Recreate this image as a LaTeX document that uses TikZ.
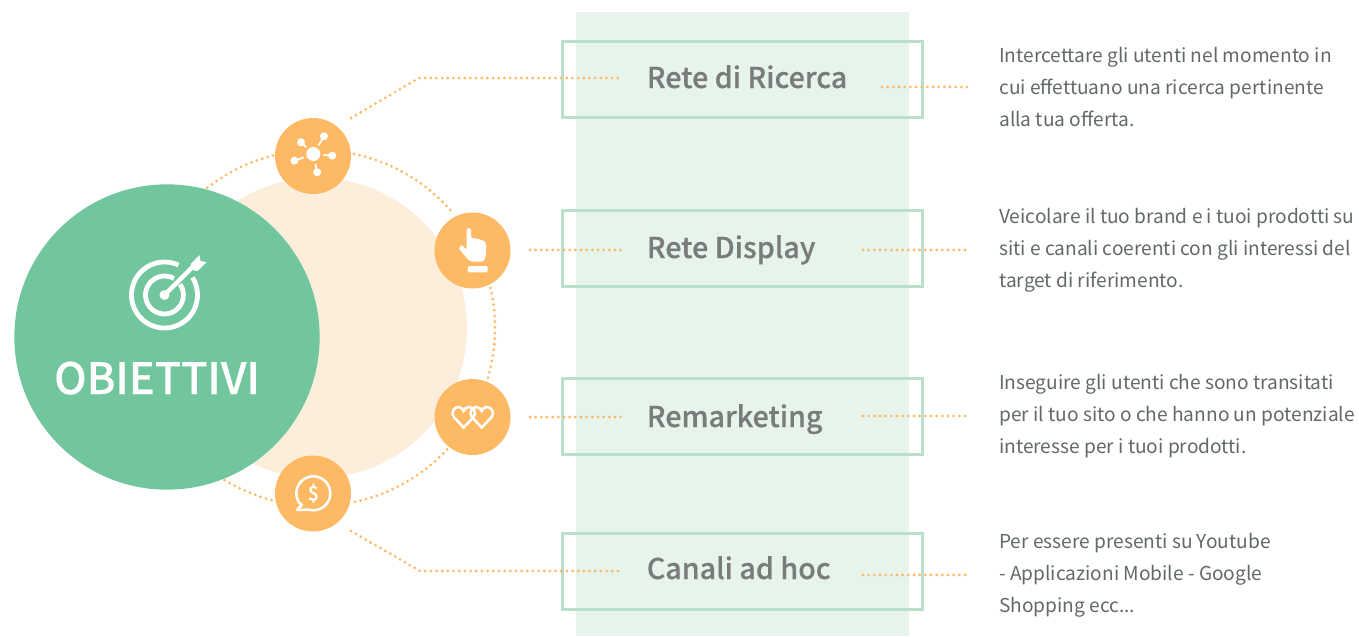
\documentclass[tikz,border=0pt]{standalone}
\usepackage{fontspec}
\setmainfont{Noto Sans CJK SC}
\newfontfamily\medio[FakeBold=0.35]{Noto Sans CJK SC Medium}
\usepackage{tikz}
\definecolor{Verde}{RGB}{114,198,157}
\definecolor{VerdeBox}{RGB}{185,224,205}
\definecolor{VerdeBg}{RGB}{230,244,235}
\definecolor{Crema}{RGB}{253,238,219}
\definecolor{Arancio}{RGB}{253,185,99}
\definecolor{GrigioT}{RGB}{122,124,124}
\definecolor{GrigioD}{RGB}{98,104,104}
\tikzset{
    puntini/.style={draw=Arancio,line width=2.3pt,line cap=round,dash pattern=on 0pt off 4.25pt},
    icona/.style={circle,fill=Arancio,minimum size=57pt,inner sep=0pt},
    riquadro/.style={draw=VerdeBox,line width=2.25pt,minimum width=270pt,minimum height=57pt,inner sep=0pt},
    titolo/.style={anchor=base west,text=GrigioT,font=\fontsize{21.5}{26}\selectfont\medio,inner sep=0pt},
    testo/.style={anchor=base west,align=left,text=GrigioD,font=\fontsize{14.35}{24}\selectfont,inner sep=0pt},
    tratto/.style={draw=white,line width=1.9pt}
}
\begin{document}
\begin{tikzpicture}[x=0.75pt,y=-0.75pt]
    \useasboundingbox (0,0) rectangle (1359,636);
    \fill[VerdeBg] (576,12) rectangle (909,636);
    % cerchi
    \node[circle,fill=Crema,minimum size=225pt,inner sep=0pt] (sfondo) at (317,328) {};
    \node[circle,fill=Verde,minimum size=229pt,inner sep=0pt] (obiettivi) at (167,337) {};
    \node[anchor=base,text=white,font=\fontsize{32.4}{36}\selectfont\medio,inner sep=0pt] (scritta) at (157,394) {OBIETTIVI};
    \coordinate (centro) at (317,328);
    \draw[puntini] (centro) ++(-128:178) arc[start angle=-128,end angle=-104,radius=178];
    \draw[puntini] (centro) ++(-78:178) arc[start angle=-78,end angle=-41,radius=178];
    \draw[puntini] (centro) ++(-13:178) arc[start angle=-13,end angle=17,radius=178];
    \draw[puntini] (centro) ++(43:178) arc[start angle=43,end angle=78,radius=178];
    \draw[puntini] (centro) ++(103:178) arc[start angle=103,end angle=122.5,radius=178];
    % icone
    \node[icona] (reteIcon) at (313,156) {};
    \node[icona] (manoIcon) at (472.5,250.5) {};
    \node[icona] (cuoriIcon) at (472.5,417) {};
    \node[icona] (bollaIcon) at (313,493.5) {};
    % riquadri
    \node[riquadro] (boxRicerca) at (742,79) {};
    \node[riquadro] (boxDisplay) at (742,248) {};
    \node[riquadro] (boxRemark) at (742,416.5) {};
    \node[riquadro] (boxCanali) at (742,571) {};
    \node[titolo] (labRicerca) at (646.5,88) {Rete di Ricerca};
    \node[titolo] (labDisplay) at (646.5,258) {Rete Display};
    \node[titolo] (labRemark) at (646.5,427) {Remarketing};
    \node[titolo] (labCanali) at (646.5,579) {Canali ad hoc};
    % descrizioni
    \node[testo] (descRicerca) at (999,126) {Intercettare gli utenti nel momento in\\cui effettuano una ricerca pertinente\\alla tua offerta.};
    \node[testo] (descDisplay) at (999,287) {Veicolare il tuo brand e i tuoi prodotti su\\siti e canali coerenti con gli interessi del\\target di riferimento.};
    \node[testo] (descRemark) at (999,453) {Inseguire gli utenti che sono transitati\\per il tuo sito o che hanno un potenziale\\interesse per i tuoi prodotti.};
    \node[testo] (descCanali) at (999,612) {Per essere presenti su Youtube\\- Applicazioni Mobile - Google\\Shopping ecc...};
    % connettori
    \coordinate (a1) at (351,118); \coordinate (a2) at (419,78); \coordinate (a3) at (619,78);
    \coordinate (b1) at (530,250); \coordinate (b2) at (622,250);
    \coordinate (c1) at (530,417); \coordinate (c2) at (622,417);
    \coordinate (d1) at (351,531); \coordinate (d2) at (420,571); \coordinate (d3) at (622,571);
    \draw[puntini] (a1) -- (a2) -- (a3);
    \draw[puntini] (b1) -- (b2);
    \draw[puntini] (c1) -- (c2);
    \draw[puntini] (d1) -- (d2) -- (d3);
    \coordinate (e1) at (882,87); \coordinate (e2) at (969,87);
    \coordinate (f1) at (863,250); \coordinate (f2) at (967,250);
    \coordinate (g1) at (863,416); \coordinate (g2) at (967,416);
    \coordinate (h1) at (863,575); \coordinate (h2) at (967,575);
    \draw[puntini] (e1) -- (e2);
    \draw[puntini] (f1) -- (f2);
    \draw[puntini] (g1) -- (g2);
    \draw[puntini] (h1) -- (h2);
    % bersaglio
    \begin{scope}[shift={(164.5,295)}]
        \draw[draw=white,line width=3.6pt] (-65:33) arc[start angle=-65,end angle=-392,radius=33];
        \draw[draw=white,line width=3.6pt] (-60:19) arc[start angle=-60,end angle=-395,radius=19];
        \fill[white] (0,0) circle (5);
        \draw[draw=white,line width=3.2pt] (0,0) -- (30,-30);
        \fill[white] (26,-31) -- (35,-40) -- (36,-34) -- (42,-33) -- (33,-24) -- (28,-25) -- cycle;
    \end{scope}
    % rete
    \begin{scope}[shift={(313.3,154)}]
        \fill[white] (0,0) circle (7);
        \foreach \ang/\rag in {-59/20.7,-136.5/17,5/19,160.6/20,78/18.7}{
            \fill[white] (\ang:\rag) circle (4);
            \draw[draw=white,line width=1.3pt] (\ang:10) -- (\ang:\rag);
        }
    \end{scope}
    % mano
    \fill[white,rounded corners=1.6pt] (466.7,250) -- (466.7,228) -- (471,228) -- (471,238.3) -- (476.7,238.3) -- (481.7,240) -- (486,242.3) -- (486,257) -- (483,261.7) -- (470,261.7) -- (458.5,248.3) -- (461.5,244.3) -- cycle;
    \fill[white,rounded corners=1pt] (467.7,266) rectangle (487.7,272.3);
    % cuori
    \foreach \cx in {463.7,481.7}{
        \begin{scope}[shift={(\cx,416.5)}]
            \draw[tratto] (0,11) -- (-9.5,1) .. controls (-13.5,-3) and (-10,-9.5) .. (-5.5,-9.5) .. controls (-3,-9.5) and (-1,-8) .. (0,-5.5) .. controls (1,-8) and (3,-9.5) .. (5.5,-9.5) .. controls (10,-9.5) and (13.5,-3) .. (9.5,1) -- cycle;
        \end{scope}
    }
    % bolla
    \begin{scope}[shift={(313.3,493.3)}]
        \draw[tratto,line join=round] (150:17) arc[start angle=150,end angle=465,radius=17] -- (-16,16.5) -- (-11.5,11.5) .. controls (-13.5,10) and (-14,9.5) .. (150:17);
        \node[text=white,font=\fontsize{15}{16}\selectfont\medio,inner sep=0pt] (dollaro) at (0,0) {\$};
    \end{scope}
\end{tikzpicture}
\end{document}
